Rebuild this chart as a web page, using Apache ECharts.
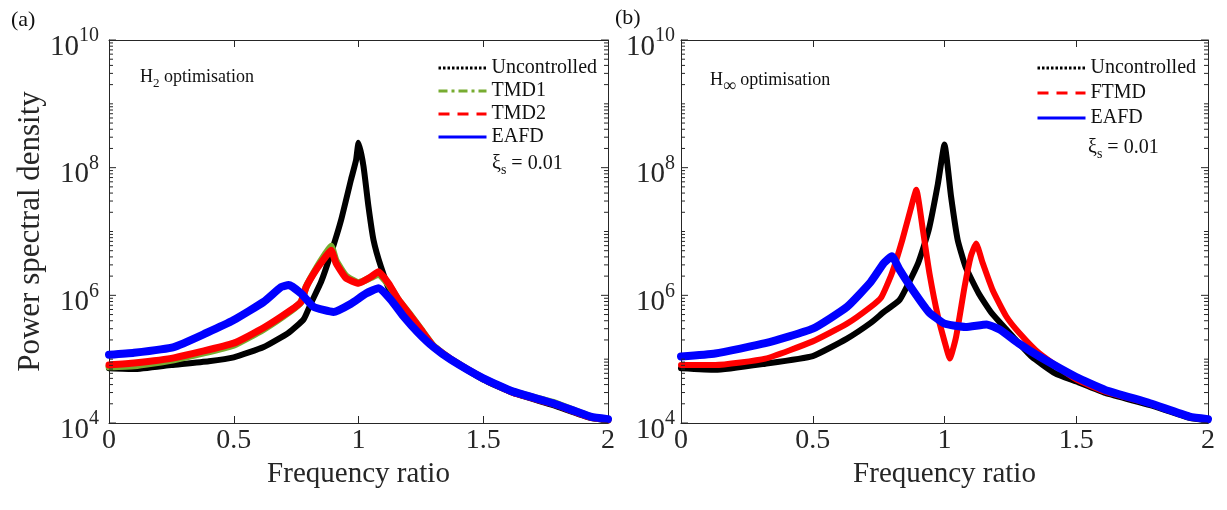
<!DOCTYPE html>
<html>
<head>
<meta charset="utf-8">
<title>PSD H2 / Hinf</title>
<script src="https://cdn.jsdelivr.net/npm/echarts@6/dist/echarts.min.js"></script>
<style>
  html, body { margin: 0; padding: 0; background: #fff; }
  #main { width: 1227px; height: 510px; }
</style>
</head>
<body>
<div id="main"></div>
<script>
// ---- panel (a): H2 optimisation ----
var freqA_unc = [0, 0.1, 0.25, 0.4, 0.5, 0.62, 0.72, 0.78, 0.81, 0.85, 0.89, 0.93, 0.97, 0.99, 1.0, 1.02, 1.04, 1.06, 1.09, 1.13, 1.18, 1.24, 1.3, 1.37, 1.5, 1.62, 1.78, 1.93, 2.0];
var psdA_unc = [7.2e4, 7.0e4, 8.1e4, 9.3e4, 1.07e5, 1.55e5, 2.6e5, 4.2e5, 7.6e5, 1.62e6, 4.6e6, 1.5e7, 6.5e7, 1.3e8, 2.45e8, 1.05e8, 2.45e7, 7.4e6, 2.8e6, 1.07e6, 5.5e5, 2.9e5, 1.55e5, 9.8e4, 4.8e4, 2.95e4, 1.9e4, 1.2e4, 1.1e4];

var freqA_tmd = [0, 0.1, 0.26, 0.5, 0.62, 0.73, 0.77, 0.79, 0.83, 0.87, 0.89, 0.91, 0.95, 1.0, 1.05, 1.08, 1.12, 1.16, 1.21, 1.25, 1.3, 1.37, 1.5, 1.62, 1.78, 1.93, 2.0];
var psdA_tmd1 = [7.6e4, 7.9e4, 9.8e4, 1.66e5, 2.95e5, 5.75e5, 7.9e5, 1.35e6, 2.6e6, 4.6e6, 5.9e6, 3.5e6, 2.0e6, 1.58e6, 1.9e6, 2.15e6, 1.48e6, 8.5e5, 4.8e5, 2.95e5, 1.62e5, 1.0e5, 5.0e4, 3.1e4, 2.1e4, 1.26e4, 1.12e4];
var psdA_tmd2 = [8.1e4, 8.7e4, 1.05e5, 1.78e5, 3.1e5, 5.9e5, 7.9e5, 1.35e6, 2.5e6, 4.1e6, 5.1e6, 3.2e6, 1.86e6, 1.55e6, 1.95e6, 2.34e6, 1.55e6, 8.5e5, 4.7e5, 2.9e5, 1.6e5, 1.0e5, 5.0e4, 3.0e4, 2.0e4, 1.23e4, 1.12e4];

var freqA_eafd = [0, 0.1, 0.26, 0.39, 0.5, 0.62, 0.69, 0.72, 0.77, 0.82, 0.9, 0.97, 1.03, 1.08, 1.13, 1.18, 1.24, 1.3, 1.37, 1.5, 1.62, 1.78, 1.93, 2.0];
var psdA_eafd = [1.17e5, 1.26e5, 1.55e5, 2.57e5, 4.1e5, 7.9e5, 1.35e6, 1.45e6, 1.07e6, 6.6e5, 5.5e5, 7.4e5, 1.07e6, 1.29e6, 8.5e5, 4.7e5, 2.57e5, 1.55e5, 9.8e4, 5.0e4, 3.1e4, 2.04e4, 1.26e4, 1.15e4];

// ---- panel (b): H-infinity optimisation ----
var freqB_unc = [0, 0.13, 0.32, 0.5, 0.63, 0.72, 0.77, 0.83, 0.9, 0.94, 0.975, 1.0, 1.025, 1.05, 1.08, 1.13, 1.18, 1.26, 1.33, 1.42, 1.5, 1.61, 1.78, 1.93, 2.0];
var psdB_unc = [7.2e4, 6.8e4, 8.5e4, 1.12e5, 2.1e5, 3.7e5, 5.5e5, 8.5e5, 3.2e6, 1.05e7, 5.6e7, 2.3e8, 3.5e7, 7.4e6, 2.8e6, 1.07e6, 5.2e5, 2.24e5, 1.1e5, 6.0e4, 4.47e4, 2.95e4, 1.9e4, 1.2e4, 1.1e4];

var freqB_ftmd = [0, 0.13, 0.32, 0.5, 0.63, 0.72, 0.76, 0.8, 0.84, 0.874, 0.893, 0.918, 0.943, 0.975, 1.006, 1.02, 1.044, 1.076, 1.1, 1.12, 1.145, 1.183, 1.234, 1.284, 1.36, 1.5, 1.61, 1.78, 1.93, 2.0];
var psdB_ftmd = [8.1e4, 8.1e4, 1.02e5, 1.9e5, 3.6e5, 6.6e5, 9.3e5, 2.2e6, 7.4e6, 2.45e7, 4.5e7, 1.05e7, 2.2e6, 4.7e5, 1.55e5, 1.02e5, 2.24e5, 1.35e6, 4.1e6, 6.5e6, 3.2e6, 1.2e6, 4.7e5, 2.57e5, 1.23e5, 4.8e4, 3.1e4, 2.0e4, 1.26e4, 1.12e4];

var freqB_eafd = [0, 0.13, 0.32, 0.5, 0.63, 0.72, 0.77, 0.8, 0.83, 0.88, 0.94, 1.0, 1.08, 1.16, 1.21, 1.28, 1.36, 1.5, 1.61, 1.78, 1.93, 2.0];
var psdB_eafd = [1.1e5, 1.23e5, 1.78e5, 3.0e5, 6.6e5, 1.62e6, 3.2e6, 4.1e6, 2.5e6, 1.2e6, 5.5e5, 3.6e5, 3.2e5, 3.5e5, 2.9e5, 1.78e5, 1.1e5, 5.25e4, 3.3e4, 2.04e4, 1.26e4, 1.15e4];

// axis ticks (log y: decades + 2..9 minors)
var yDecades = [1e4, 1e5, 1e6, 1e7, 1e8, 1e9, 1e10];
var yLabelled = [1e4, 1e6, 1e8, 1e10];
var yMinorMult = [2, 3, 4, 5, 6, 7, 8, 9];

var FONT = "'Liberation Serif', 'Times New Roman', serif";
var AXIS_COLOR = '#262626';
var TEXT_COLOR = '#111111';
var C_BLACK = '#000000', C_GREEN = '#77AC30', C_RED = '#FF0000', C_BLUE = '#0000FF';

function pairs(xs, ys) {
  return xs.map(function (x, i) { return [x, ys[i]]; });
}

var yTickData = [];
yDecades.forEach(function (d, i) {
  yTickData.push([0, d, yLabelled.indexOf(d) >= 0 ? 1 : 0]);
  if (i < yDecades.length - 1) {
    yMinorMult.forEach(function (m) { yTickData.push([0, d * m, 0]); });
  }
});

function renderYTicks(params, api) {
  var v = api.value(1);
  var len = api.value(2) ? 7 : 4;
  var pl = api.coord([0, v]);
  var pr = api.coord([2, v]);
  var st = { stroke: AXIS_COLOR, lineWidth: 1 };
  return {
    type: 'group',
    children: [
      { type: 'line', shape: { x1: pl[0], y1: pl[1], x2: pl[0] + len, y2: pl[1] }, style: st },
      { type: 'line', shape: { x1: pr[0] - len, y1: pr[1], x2: pr[0], y2: pr[1] }, style: st }
    ]
  };
}

function xAxisPair(gi) {
  var base = {
    gridIndex: gi, type: 'value', min: 0, max: 2, interval: 0.5,
    axisLine: { show: true, onZero: false, lineStyle: { color: AXIS_COLOR, width: 1 } },
    axisTick: { show: true, inside: true, length: 7, lineStyle: { color: AXIS_COLOR } },
    splitLine: { show: false }
  };
  var bottom = Object.assign({}, base, {
    position: 'bottom',
    axisLabel: {
      color: AXIS_COLOR, fontFamily: FONT, fontSize: 28, margin: 4,
      formatter: function (v) { return String(v); }
    },
    name: 'Frequency ratio', nameLocation: 'middle', nameGap: 25,
    nameTextStyle: { color: AXIS_COLOR, fontFamily: FONT, fontSize: 29 }
  });
  var top = Object.assign({}, base, { position: 'top', axisLabel: { show: false } });
  return [bottom, top];
}

function yAxisPair(gi, withName, margin) {
  var base = {
    gridIndex: gi, type: 'log', logBase: 10, min: 1e4, max: 1e10, splitNumber: 6,
    axisLine: { show: true, onZero: false, lineStyle: { color: AXIS_COLOR, width: 1 } },
    axisTick: { show: false },
    splitLine: { show: false },
    minorTick: { show: false }
  };
  var left = Object.assign({}, base, {
    position: 'left',
    axisLabel: {
      margin: margin,
      formatter: function (v) {
        var e = Math.round(Math.log(v) / Math.LN10);
        if (e % 2 !== 0) return '';
        return '{b|10}{s|' + e + '}';
      },
      rich: {
        b: { fontFamily: FONT, fontSize: 29, color: AXIS_COLOR, padding: [14, 0, 0, 0] },
        s: { fontFamily: FONT, fontSize: 20, color: AXIS_COLOR, padding: [0, 0, 8, 0] }
      }
    }
  });
  if (withName) {
    left.name = 'Power spectral density';
    left.nameLocation = 'middle';
    left.nameGap = 63;
    left.nameTextStyle = { color: AXIS_COLOR, fontFamily: FONT, fontSize: 31 };
  }
  var right = Object.assign({}, base, { position: 'right', axisLabel: { show: false } });
  return [left, right];
}

function lineSeries(name, data, color, width, xi, yi) {
  return {
    name: name, type: 'line', xAxisIndex: xi, yAxisIndex: yi,
    data: data, symbol: 'none', showSymbol: false,
    smooth: 0.15,
    lineStyle: { color: color, width: width, join: 'round', cap: 'round' },
    itemStyle: { color: color },
    emphasis: { disabled: true }
  };
}

var legendText = { color: TEXT_COLOR, fontFamily: FONT, fontSize: 20 };
var noMarker = { color: 'rgba(0,0,0,0)', opacity: 0, borderWidth: 0 };

function legendLine(type) {
  return { type: type, width: 3, cap: 'butt', join: 'miter' };
}

function annot(text, left, top, size, subSize, subPad) {
  return {
    text: text, left: left, top: top,
    textStyle: {
      fontWeight: 'normal',
      rich: {
        n: { fontFamily: FONT, fontSize: size, color: TEXT_COLOR, fontWeight: 'normal' },
        sub: { fontFamily: FONT, fontSize: subSize, color: TEXT_COLOR, fontWeight: 'normal', padding: [subPad, 0, 0, 0] }
      }
    }
  };
}

var option = {
  animation: false,
  backgroundColor: '#ffffff',
  grid: [
    { left: 109, top: 40, width: 499, height: 383 },
    { left: 681, top: 40, width: 527, height: 383 }
  ],
  xAxis: xAxisPair(0).concat(xAxisPair(1)),
  yAxis: yAxisPair(0, true, 10).concat(yAxisPair(1, false, 6)),
  title: [
    { text: '(a)', left: 6, top: 4, textStyle: { fontFamily: FONT, fontSize: 22, fontWeight: 'normal', color: TEXT_COLOR } },
    { text: '(b)', left: 610, top: 2, textStyle: { fontFamily: FONT, fontSize: 22, fontWeight: 'normal', color: TEXT_COLOR } },
    annot('{n|H}{sub|2}{n| optimisation}', 135, 60, 18, 13, 12),
    annot('{n|H}{sub|\u221E}{n| optimisation}', 705, 60, 18, 18, 12),
    annot('{n|\u03BE}{sub|s}{n| = 0.01}', 487, 146, 20, 14, 12),
    annot('{n|\u03BE}{sub|s}{n| = 0.01}', 1083, 130, 20, 14, 12)
  ],
  legend: [
    {
      orient: 'vertical', left: 432, top: 53, itemWidth: 48, itemHeight: 12, itemGap: 3,
      textStyle: legendText, selectedMode: false,
      data: [
        { name: 'Uncontrolled', itemStyle: noMarker, lineStyle: legendLine([2.5, 2]) },
        { name: 'TMD1', itemStyle: noMarker, lineStyle: legendLine([9, 4, 3, 4]) },
        { name: 'TMD2', itemStyle: noMarker, lineStyle: legendLine([11, 8]) },
        { name: 'EAFD', itemStyle: noMarker, lineStyle: legendLine('solid') }
      ]
    },
    {
      orient: 'vertical', left: 1031, top: 53, itemWidth: 48, itemHeight: 12, itemGap: 5,
      textStyle: legendText, selectedMode: false,
      data: [
        { name: 'Uncontrolled', itemStyle: noMarker, lineStyle: legendLine([2.5, 2]) },
        { name: 'FTMD', itemStyle: noMarker, lineStyle: legendLine([11, 8]) },
        { name: 'EAFD', itemStyle: noMarker, lineStyle: legendLine('solid') }
      ]
    }
  ],
  series: [
    lineSeries('Uncontrolled', pairs(freqA_unc, psdA_unc), C_BLACK, 6, 0, 0),
    lineSeries('TMD1', pairs(freqA_tmd, psdA_tmd1), C_GREEN, 7, 0, 0),
    lineSeries('TMD2', pairs(freqA_tmd, psdA_tmd2), C_RED, 7, 0, 0),
    lineSeries('EAFD', pairs(freqA_eafd, psdA_eafd), C_BLUE, 8, 0, 0),
    lineSeries('Uncontrolled', pairs(freqB_unc, psdB_unc), C_BLACK, 6, 2, 2),
    lineSeries('FTMD', pairs(freqB_ftmd, psdB_ftmd), C_RED, 6, 2, 2),
    lineSeries('EAFD', pairs(freqB_eafd, psdB_eafd), C_BLUE, 8, 2, 2),
    { type: 'custom', xAxisIndex: 0, yAxisIndex: 0, data: yTickData, renderItem: renderYTicks, silent: true, clip: false, z: 5 },
    { type: 'custom', xAxisIndex: 2, yAxisIndex: 2, data: yTickData, renderItem: renderYTicks, silent: true, clip: false, z: 5 }
  ]
};

var chart = echarts.init(document.getElementById('main'));
chart.setOption(option);
</script>
</body>
</html>
